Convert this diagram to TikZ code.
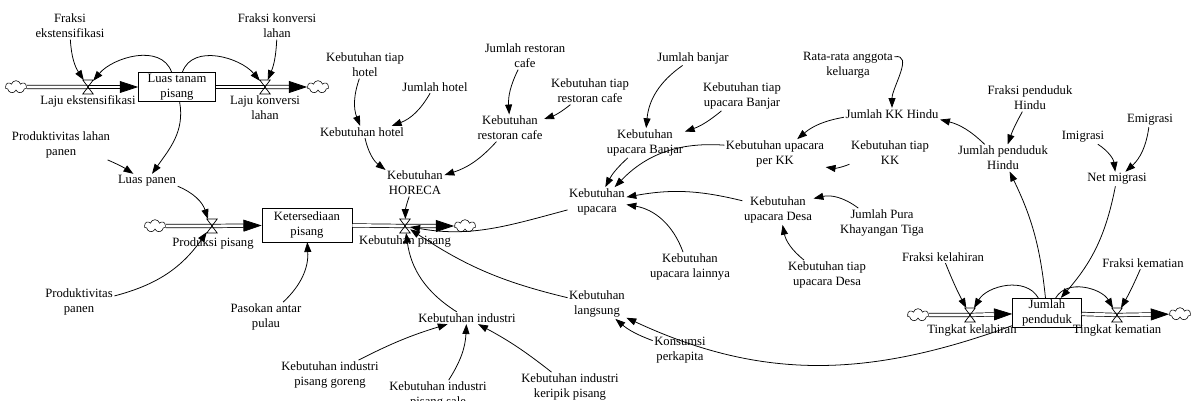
\documentclass[tikz,border=0pt]{standalone}
\usepackage{fontspec}
\setmainfont{Liberation Serif}
\usetikzlibrary{arrows.meta,shapes.symbols}

\begin{document}
\begin{tikzpicture}
  [x=0.025cm,y=0.025cm,font=\fontsize{9}{10.6}\selectfont,
   every node/.style={align=center, inner sep=1pt},
   stock/.style={draw, minimum height=21pt},
   valve/.style={minimum width=7pt, minimum height=9.5pt, inner sep=0pt},
   sink/.style={cloud, draw, cloud puffs=7, aspect=1.6, minimum width=15pt, minimum height=9pt, inner sep=0pt},
   pipe/.style={double, double distance=2pt, line width=0.5pt},
   flowtip/.style={-{Triangle[length=13pt,width=8.5pt]}},
   link/.style={-{Triangle[length=7pt,width=5pt]}, line width=0.55pt}]
  \useasboundingbox (0,0) rectangle (1191,-401);

  % stocks
  \node[stock, minimum width=55pt] (ltp) at (177,-87) {Luas tanam\\pisang};
  \node[stock, minimum width=64pt, minimum height=24pt] (ksp) at (307,-225) {Ketersediaan\\pisang};
  \node[stock, minimum width=49pt] (jpd) at (1047,-313) {Jumlah\\penduduk};

  % valves and clouds
  \node[valve] (vle) at (88,-87) {};
  \node[valve] (vlk) at (265,-87) {};
  \node[valve] (vpp) at (212,-226) {};
  \node[valve] (vkp) at (405,-226) {};
  \node[valve] (vtl) at (970,-315) {};
  \node[valve] (vtk) at (1117,-315) {};
  \node[sink] (c1) at (16,-87) {};
  \node[sink] (c2) at (318,-87) {};
  \node[sink] (c3) at (155,-226) {};
  \node[sink] (c4) at (465,-226) {};
  \node[sink] (c5) at (918,-315) {};
  \node[sink] (c6) at (1180,-314) {};

  % flow names
  \node (lle) at (88,-101) {Laju ekstensifikasi};
  \node (llk) at (265,-108) {Laju konversi\\lahan};
  \node (lpp) at (213,-243) {Produksi pisang};
  \node (lkp) at (405,-241) {Kebutuhan pisang};
  \node (ltl) at (972,-330) {Tingkat kelahiran};
  \node (ltk) at (1117,-330) {Tingkat kematian};

  % variables
  \node (fe) at (70,-26) {Fraksi\\ekstensifikasi};
  \node (fkl) at (277,-26) {Fraksi konversi\\lahan};
  \node (plp) at (61,-145) {Produktivitas lahan\\panen};
  \node (lp) at (147,-181) {Luas panen};
  \node (pp) at (79,-302) {Produktivitas\\panen};
  \node (pap) at (266,-317) {Pasokan antar\\pulau};
  \node (kth) at (365,-65) {Kebutuhan tiap\\hotel};
  \node (jh) at (435,-87) {Jumlah hotel};
  \node (kh) at (362,-132) {Kebutuhan hotel};
  \node (horeca) at (415,-183) {Kebutuhan\\HORECA};
  \node (jrc) at (525,-56) {Jumlah restoran\\cafe};
  \node (ktrc) at (590,-91) {Kebutuhan tiap\\restoran cafe};
  \node (krc) at (510,-128) {Kebutuhan\\restoran cafe};
  \node (jb) at (693,-58) {Jumlah banjar};
  \node (ktub) at (742,-96) {Kebutuhan tiap\\upacara Banjar};
  \node (kub) at (645,-143) {Kebutuhan\\upacara Banjar};
  \node (kupk) at (775,-154) {Kebutuhan upacara\\per KK};
  \node (ku) at (597,-202) {Kebutuhan\\upacara};
  \node (kud) at (778,-210) {Kebutuhan\\upacara Desa};
  \node (kul) at (690,-267) {Kebutuhan\\upacara lainnya};
  \node (ktud) at (827,-275) {Kebutuhan tiap\\upacara Desa};
  \node (jpkt) at (882,-223) {Jumlah Pura\\Khayangan Tiga};
  \node (kl) at (597,-304) {Kebutuhan\\langsung};
  \node (kp) at (680,-350) {Konsumsi\\perkapita};
  \node (rak) at (848,-65) {Rata-rata anggota\\keluarga};
  \node (jkk) at (892,-114) {Jumlah KK Hindu};
  \node (ktk) at (890,-153) {Kebutuhan tiap\\KK};
  \node (fph) at (1030,-98) {Fraksi penduduk\\Hindu};
  \node (jph) at (1003,-158) {Jumlah penduduk\\Hindu};
  \node (imi) at (1083,-137) {Imigrasi};
  \node (emi) at (1150,-120) {Emigrasi};
  \node (nm) at (1117,-179) {Net migrasi};
  \node (fkel) at (943,-257) {Fraksi kelahiran};
  \node (fkem) at (1143,-263) {Fraksi kematian};
  \node (ki) at (467,-318) {Kebutuhan industri};
  \node (kig) at (330,-375) {Kebutuhan industri\\pisang goreng};
  \node (kis) at (438,-395) {Kebutuhan industri\\pisang sale};
  \node (kik) at (570,-387) {Kebutuhan industri\\keripik pisang};

  % pipes
  \foreach \from/\to in {c1/vle,ltp/vlk,c3/vpp,ksp/vkp,c5/vtl,jpd/vtk}
    \draw[pipe] (\from) -- (\to.center);
  \foreach \from/\to in {vle/ltp,vlk/c2,vpp/ksp,vkp/c4,vtl/jpd,vtk/c6}
    \draw[pipe,flowtip] (\from.center) -- (\to);
  \foreach \v in {vle,vlk,vpp,vkp,vtl,vtk}
    \draw[line width=0.5pt] (\v.north west) -- (\v.north east) -- (\v.south west) -- (\v.south east) -- cycle;

  % links
  \foreach \from/\to/\b in {fe/vle/-15,fkl/vlk/10,plp/lp/5,lp/vpp/25,pp/vpp/-20,
      pap/ksp/-25,kth/kh/-20,jh/kh/20,kh/horeca/-20,krc/horeca/15,jrc/krc/-15,
      ktrc/krc/10,horeca/vkp/-10,ki/vkp/25,kl/vkp/10,jb/kub/-25,ktub/kub/10,
      kub/ku/-10,kupk/ku/-25,kud/ku/-12,kul/ku/-30,jkk/kupk/-15,ktk/kupk/15,
      jpkt/kud/-25,ktud/kud/20,jph/jkk/-15,fph/jph/-5,jpd/jph/-10,nm/jpd/15,
      imi/nm/25,emi/nm/20,fkel/vtl/-3,fkem/vtk/3,kp/kl/10,kig/ki/5,kis/ki/-15,
      kik/ki/-5}
    \draw[link] (\from) to[bend left=\b] (\to);
  \draw[link] (ltp) to[out=110,in=50] (vle);
  \draw[link] (ltp) to[out=70,in=130] (vlk);
  \draw[link] (ltp) to[out=-80,in=55] (lp);
  \draw[link] (ku) to[out=195,in=-10] (vkp);
  \draw[link] (rak) to[out=10,in=90] (jkk);
  \draw[link] (jpd) to[out=120,in=60] (vtl);
  \draw[link] (jpd) to[out=60,in=120] (vtk);
  \draw[link] (jpd) to[out=200,in=-25] (kl);
\end{tikzpicture}
\end{document}
